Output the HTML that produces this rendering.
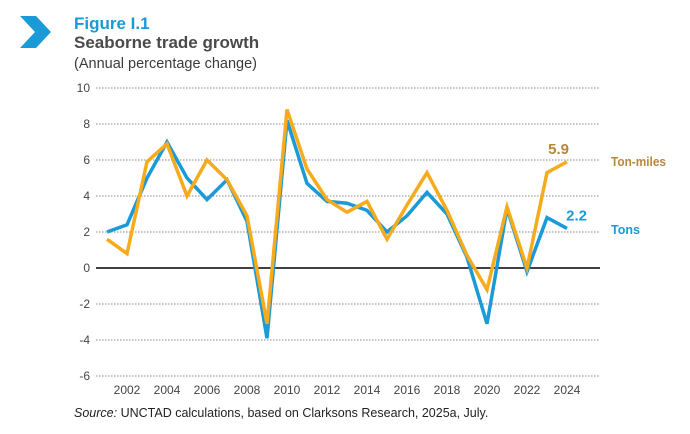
<!DOCTYPE html>
<html><head><meta charset="utf-8">
<style>
html,body{margin:0;padding:0;background:#fff;width:690px;height:434px;overflow:hidden;font-family:"Liberation Sans",Arial,sans-serif;}
svg{display:block}
</style></head>
<body>
<svg width="690" height="434" viewBox="0 0 690 434">
  <polygon points="20,16 36,16 51,32 36,48 20,48 35,32" fill="#1a9ad6"/>
  <text x="74" y="29" font-size="17" font-weight="bold" fill="#1a9ad6">Figure I.1</text>
  <text x="74" y="48" font-size="17" font-weight="bold" fill="#4a4a4a">Seaborne trade growth</text>
  <text x="74" y="68" font-size="14.5" fill="#3a3a3a">(Annual percentage change)</text>
  <g id="grid"></g>
  <g id="series"></g>
  <text x="74" y="417" font-size="12.5" fill="#222"><tspan font-style="italic">Source:</tspan> UNCTAD calculations, based on Clarksons Research, 2025a, July.</text>
</svg>
<script>
const years=[2001,2002,2003,2004,2005,2006,2007,2008,2009,2010,2011,2012,2013,2014,2015,2016,2017,2018,2019,2020,2021,2022,2023,2024];
const tons=[2.0,2.4,5.0,7.0,5.0,3.8,4.9,2.6,-3.9,8.2,4.7,3.7,3.6,3.2,2.0,2.9,4.2,3.0,0.6,-3.1,3.3,-0.2,2.8,2.2];
const tonMiles=[1.6,0.8,5.9,6.9,4.0,6.0,4.9,2.9,-3.1,8.8,5.5,3.8,3.1,3.7,1.6,3.5,5.3,3.2,0.7,-1.2,3.4,0.0,5.3,5.9];
const yTicks=[10,8,6,4,2,0,-2,-4,-6];
const xTickLabels=[2002,2004,2006,2008,2010,2012,2014,2016,2018,2020,2022,2024];
const NS="http://www.w3.org/2000/svg";
const X=y=>107+(y-2001)*20;
const Y=v=>268-v*18;
const grid=document.getElementById('grid'), ser=document.getElementById('series');
function mk(tag,attrs,parent){const e=document.createElementNS(NS,tag);for(const k in attrs)e.setAttribute(k,attrs[k]);parent.appendChild(e);return e;}
yTicks.forEach(v=>{
  const l=mk('line',{x1:96,x2:600,y1:Y(v),y2:Y(v),stroke:v===0?'#000':'#888','stroke-width':v===0?1.5:1,'stroke-dasharray':v===0?'none':'1.5,1.5'},grid);
  
  
  const t=mk('text',{x:90,y:Y(v)+4,'text-anchor':'end','font-size':12,fill:'#444'},grid);
  t.textContent=v;
  
  
});
xTickLabels.forEach(y=>{
  const t=mk('text',{x:X(y),y:394,'text-anchor':'middle','font-size':12,fill:'#444'},grid);
  t.textContent=y;
  
  
});
function line(vals,color,name){
  const p=mk('polyline',{points:vals.map((v,i)=>X(years[i])+','+Y(v)).join(' '),fill:'none',stroke:color,'stroke-width':3.5,'stroke-linejoin':'miter'},ser);
  
  
}
line(tons,'#1a9ad6','tons-line');
line(tonMiles,'#f5ab1c','ton-miles-line');
const last=years.length-1;
let t=mk('text',{x:X(years[last])+2,y:Y(tonMiles[last])-8,'text-anchor':'end','font-size':15,'font-weight':'bold',fill:'#b8863b'},ser);
t.textContent=tonMiles[last].toFixed(1);


t=mk('text',{x:X(years[last])+20,y:Y(tons[last])-8,'text-anchor':'end','font-size':15,'font-weight':'bold',fill:'#1a9ad6'},ser);
t.textContent=tons[last].toFixed(1);


t=mk('text',{x:611,y:166,'font-size':12.5,'font-weight':'bold',fill:'#b8863b',textLength:55,lengthAdjust:'spacingAndGlyphs'},ser);
t.textContent='Ton-miles';


t=mk('text',{x:611,y:234,'font-size':12.5,'font-weight':'bold',fill:'#1a9ad6'},ser);
t.textContent='Tons';


</script>
</body></html>
